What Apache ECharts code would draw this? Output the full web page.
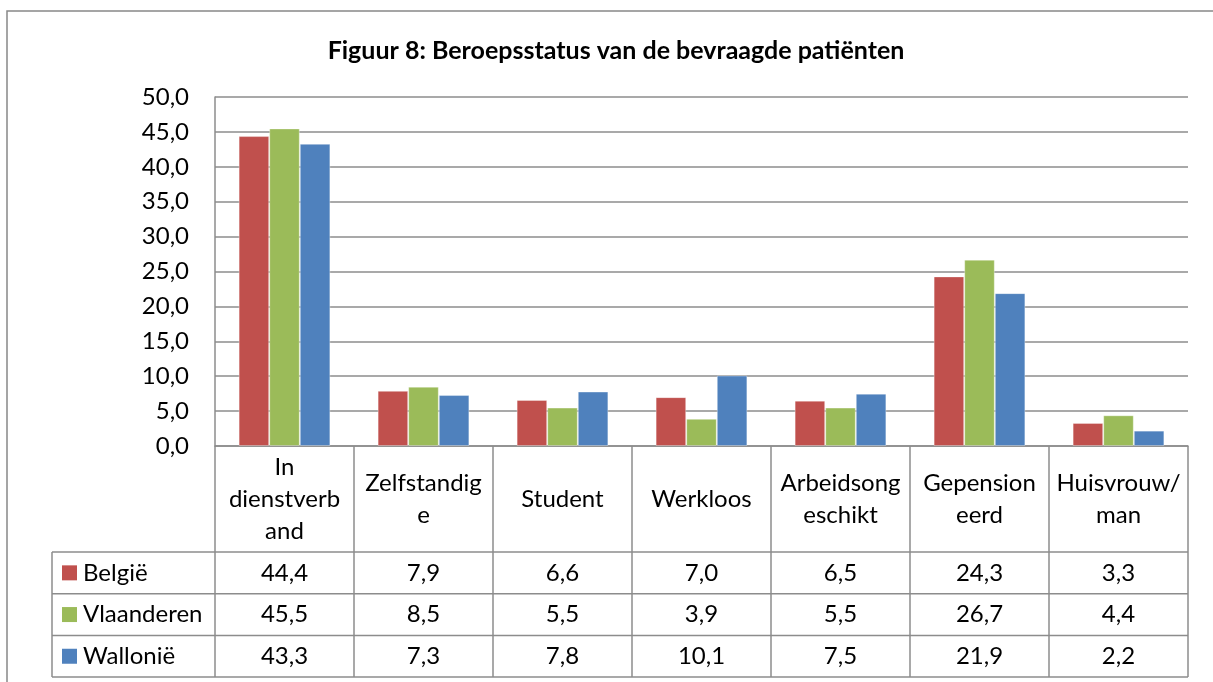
<!DOCTYPE html>
<html>
<head>
<meta charset="utf-8">
<script src="https://cdn.jsdelivr.net/npm/echarts@6/dist/echarts.min.js"></script>
<style>
    html, body { margin: 0; padding: 0; background: #fff; }
    #chart { width: 1213px; height: 682px; }
</style>
</head>
<body>
<div id="chart"></div>
<script>
const TITLE = 'Figuur 8: Beroepsstatus van de bevraagde patiënten';
const categories = ['In dienstverband', 'Zelfstandige', 'Student', 'Werkloos', 'Arbeidsongeschikt', 'Gepensioneerd', 'Huisvrouw/man'];
// wrapped the way the original table cells break them
const headerLabels = ['In\ndienstverb\nand', 'Zelfstandig\ne', 'Student', 'Werkloos', 'Arbeidsong\neschikt', 'Gepension\neerd', 'Huisvrouw/\nman'];
const seriesNames = ['België', 'Vlaanderen', 'Wallonië'];
const belgie = [44.4, 7.9, 6.6, 7.0, 6.5, 24.3, 3.3];
const vlaanderen = [45.5, 8.5, 5.5, 3.9, 5.5, 26.7, 4.4];
const wallonie = [43.3, 7.3, 7.8, 10.1, 7.5, 21.9, 2.2];
const colors = ['#C0504D', '#9BBB59', '#4F81BD'];

const FONT = 'Lato, "Noto Sans", sans-serif';
const FONT_SIZE = 24;
const GRID_LINE = '#8c8c8c';
const PLOT = { left: 215, top: 97, right: 1188, bottom: 446 };
const HEADER_BOTTOM = 552;
const ROW_HEIGHT = 41.7;
const TABLE_LEFT = 52;

const fmt = (v) => v.toFixed(1).replace('.', ',');

const chart = echarts.init(document.getElementById('chart'));
const seriesData = [belgie, vlaanderen, wallonie];

chart.setOption({
    animation: false,
    textStyle: { fontFamily: FONT },
    title: {
        text: TITLE,
        left: 611,
        top: 33,
        textAlign: 'center',
        textStyle: { fontFamily: FONT, fontSize: 25, fontWeight: 'bold', color: '#000' }
    },
    grid: {
        left: PLOT.left,
        top: PLOT.top,
        right: 1213 - PLOT.right,
        bottom: 682 - PLOT.bottom,
        outerBoundsMode: 'none'
    },
    xAxis: {
        type: 'category',
        data: categories,
        axisLine: { lineStyle: { color: GRID_LINE, width: 1.5 } },
        axisTick: { show: false },
        axisLabel: {
            interval: 0,
            margin: 53,
            verticalAlign: 'middle',
            lineHeight: 32,
            fontSize: FONT_SIZE,
            color: '#000',
            fontFamily: FONT,
            formatter: (value, idx) => headerLabels[idx]
        }
    },
    yAxis: {
        type: 'value',
        min: 0,
        max: 50,
        interval: 5,
        axisLine: { show: true, lineStyle: { color: GRID_LINE, width: 1.5 } },
        axisTick: { show: false },
        splitLine: { lineStyle: { color: GRID_LINE, width: 1.5 } },
        axisLabel: {
            margin: 26,
            fontSize: FONT_SIZE,
            color: '#000',
            fontFamily: FONT,
            formatter: (v) => fmt(v)
        }
    },
    series: seriesNames.map((name, i) => ({
        name,
        type: 'bar',
        data: seriesData[i],
        barGap: '0%',
        barCategoryGap: '34%',
        itemStyle: {
            color: colors[i],
            borderColor: 'rgba(255,255,255,0.35)',
            borderWidth: 1
        }
    }))
});

// data table under the plot, aligned with the category axis
function buildTable() {
    const graphics = [];
    const line = (x1, y1, x2, y2) => ({
        type: 'line',
        shape: { x1, y1, x2, y2 },
        style: { stroke: GRID_LINE, lineWidth: 1.5 },
        silent: true
    });

    // chart frame
    graphics.push({
        type: 'rect',
        shape: { x: 7, y: 11, width: 1300, height: 800 },
        style: { fill: null, stroke: '#888', lineWidth: 1.5 },
        silent: true
    });

    const centers = categories.map((c) => chart.convertToPixel({ xAxisIndex: 0 }, c));
    const step = centers.length > 1 ? centers[1] - centers[0] : PLOT.right - PLOT.left;
    const bounds = [centers[0] - step / 2].concat(centers.map((c) => c + step / 2));
    const tableBottom = HEADER_BOTTOM + ROW_HEIGHT * seriesNames.length;

    bounds.forEach((x) => graphics.push(line(x, PLOT.bottom, x, tableBottom)));
    graphics.push(line(TABLE_LEFT, HEADER_BOTTOM, TABLE_LEFT, tableBottom));
    for (let r = 0; r <= seriesNames.length; r++) {
        const y = HEADER_BOTTOM + ROW_HEIGHT * r;
        graphics.push(line(TABLE_LEFT, y, bounds[bounds.length - 1], y));
    }

    seriesNames.forEach((name, r) => {
        const yMid = HEADER_BOTTOM + ROW_HEIGHT * r + ROW_HEIGHT / 2;
        graphics.push({
            type: 'rect',
            shape: { x: 62, y: yMid - 7.5, width: 15, height: 15 },
            style: { fill: colors[r] },
            silent: true
        });
        graphics.push({
            type: 'text',
            x: 83,
            y: yMid,
            style: {
                text: name, fontSize: FONT_SIZE, fontFamily: FONT, fill: '#000',
                verticalAlign: 'middle', align: 'left'
            },
            silent: true
        });
        seriesData[r].forEach((v, c) => {
            graphics.push({
                type: 'text',
                x: centers[c],
                y: yMid,
                style: {
                    text: fmt(v), fontSize: FONT_SIZE, fontFamily: FONT, fill: '#000',
                    verticalAlign: 'middle', align: 'center'
                },
                silent: true
            });
        });
    });

    return graphics;
}

chart.setOption({ graphic: buildTable() });
</script>
</body>
</html>
